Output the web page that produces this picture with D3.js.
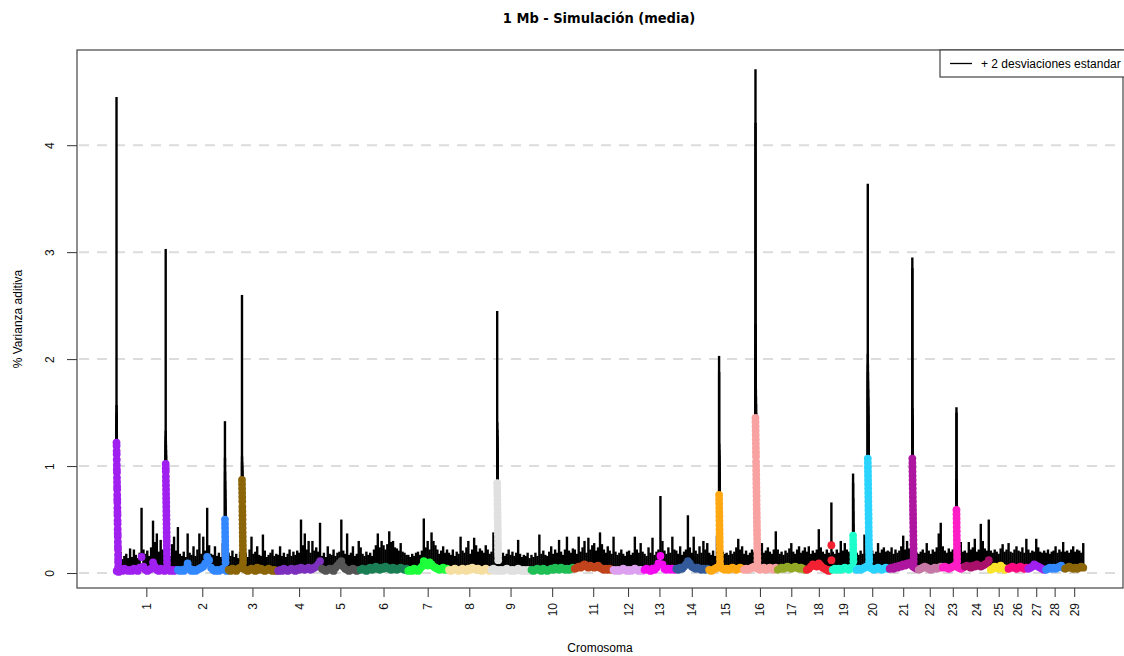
<!DOCTYPE html>
<meta charset="utf-8">
<style>
body { margin: 0; background: #fff; }
svg { font-family: "Liberation Sans", Arial, sans-serif; }
.titulo { font-family: "DejaVu Sans", sans-serif; font-stretch: condensed; font-weight: bold; font-size: 14.5px; }
.tick text { font-size: 12px; fill: #111; }
.tick line { stroke: #333; }
</style>
<svg width="1124" height="656"></svg>
<script src="https://d3js.org/d3.v7.min.js"></script>
<script>

// cromosomas y su longitud (ventanas de 1 Mb)
var cromosomas = ["1","2","3","4","5","6","7","8","9","10","11","12","13","14","15",
                  "16","17","18","19","20","21","22","23","24","25","26","27","28","29"];
var tamCrom = [158,131,128,113,100,123,105,110,103,112,100,80,82,85,90,87,75,67,62,85,75,62,57,67,46,51,46,49,52];

// media de % varianza aditiva (centesimas), por cromosoma
var mediaCrom = [
  [2,1,3,2,4,3,2,3,2,4,3,2,5,15,6,3,2,3,4,10,6,3,2,4,3,2,4,3,2,3,2,3],
  [3,2,3,2,4,9,4,2,3,2,3,4,5,6,9,15,12,5,3,2,3,2,3,4,3,2],
  [3,2,4,3,2,4,5,6,4,3,2,3,4,3,2,5,3,4,3,2,3,4,3,2,3,2],
  [2,3,2,4,3,2,3,4,3,2,4,3,5,4,3,4,5,3,4,5,6,8,11],
  [4,3,2,3,4,3,2,5,7,9,11,6,4,3,2,3,4,3,2,3],
  [3,4,3,2,4,5,3,4,6,4,3,5,4,6,5,4,3,5,4,3,4,5,4,3,4],
  [2,3,2,4,3,2,4,6,11,9,7,10,8,6,5,4,3,4,5,3,4],
  [3,2,3,4,3,2,3,4,3,2,4,3,5,4,3,4,3,2,3,4,3,2],
  [3,4,2,3,2,3,2,3,4,3,2,3,2,3,4,3,2,3,2,3,2],
  [3,2,3,4,3,2,4,3,2,3,4,3,5,4,3,5,4,3,4,3,4,5],
  [4,5,6,5,7,8,6,5,7,6,5,6,7,5,4,3,4,3,4,3],
  [3,2,3,2,3,4,3,2,3,2,3,4,3,2,3,2],
  [3,4,3,2,4,3,5,9,16,8,4,3,4,3,4,3],
  [4,3,5,4,6,8,11,9,6,5,4,5,4,3,4,3,4],
  [3,2,3,4,5,6,5,4,3,4,3,4,5,4,3,4,5,4],
  [3,4,3,4,5,6,5,4,3,4,5,3,4,5,4,3,5],
  [3,4,5,4,5,6,5,4,5,6,5,4,5,4,3],
  [3,4,6,8,7,6,9,7,5,4,3,2,3],
  [3,4,3,4,3,4,5,4,3,5,6,4],
  [3,4,3,4,5,6,7,5,4,3,4,5,4,3,4,5,4],
  [4,5,4,6,5,7,6,8,7,9,8,10,6,5,4],
  [3,4,5,6,5,4,3,4,5,4,5,6],
  [5,6,5,4,5,6,7,6,5,4,5],
  [6,7,6,5,7,6,8,7,6,7,8,9,12],
  [3,4,6,5,4,7,5,3,4],
  [4,5,6,5,4,5,6,5,4,5],
  [4,5,6,8,7,6,5,4,3],
  [3,4,5,4,5,4,5,6,7,5],
  [4,5,6,5,4,5,4,5,6,5]
];

// media + 2 desviaciones estandar (centesimas)
var supCrom = [
  [14,15,20,13,16,18,14,23,15,22,17,14,19,61,22,18,21,16,24,49,29,37,20,31,22,18,25,19,16,27,34,21],
  [43,18,16,20,15,37,19,17,25,16,22,37,18,34,21,61,26,18,17,25,16,19,15,28,14,16],
  [19,16,21,15,18,14,20,17,16,19,15,22,34,18,20,25,17,16,36,21,15,17,19,22,16,18],
  [17,25,16,19,15,18,22,16,20,17,21,19,50,26,37,22,30,19,30,21,24,20,47],
  [16,19,15,25,18,17,22,16,19,20,50,21,18,37,17,19,25,16,18,30],
  [24,18,16,20,17,19,16,22,26,37,24,30,26,22,27,39,29,30,24,23,21,28,20,19,17],
  [17,15,18,16,19,20,17,21,51,24,30,22,38,30,26,22,18,21,25,19,22],
  [19,17,22,16,20,18,34,21,19,24,30,18,22,33,26,20,23,21,19,26,22,18],
  [20,38,17,18,15,17,19,16,18,22,17,20,16,19,31,18,15,17,16,19,14],
  [17,15,19,16,36,18,21,17,16,20,25,18,22,19,31,20,17,22,34,21,19,23],
  [22,18,34,20,24,30,19,33,22,26,28,21,24,38,27,22,19,25,21,18],
  [34,20,17,19,22,18,16,20,21,17,19,34,22,19,28,20],
  [18,16,24,19,33,17,20,22,72,30,21,18,24,19,34,22],
  [21,18,25,17,20,22,54,24,19,34,21,18,25,19,30,22,28],
  [19,17,21,16,35,18,22,20,18,19,17,21,18,20,24,32,22,25],
  [18,21,17,19,22,20,25,18,22,28,19,21,24,20,18,22,39],
  [22,18,20,17,21,19,23,28,20,18,22,25,19,21,24],
  [20,25,18,21,19,22,41,24,20,18,22,19,17],
  [20,18,22,19,30,21,28,22,20,19,18,21],
  [19,17,21,18,36,20,22,19,21,18,20,28,19,22,24,20,21],
  [20,24,18,22,19,21,25,35,22,30,23,20,18,21,19],
  [18,20,22,19,28,21,18,22,20,24,37,47],
  [25,21,19,23,20,22,24,21,22,29,20],
  [21,19,29,22,24,32,20,22,46,30,23,21,50],
  [21,19,22,20,18,23,27,20,22],
  [28,20,19,22,25,21,20,24,19,32],
  [22,19,21,20,32,24,20,19,21],
  [19,22,18,20,21,25,19,22,20,29],
  [20,21,19,22,25,20,22,21,19,28]
];

// picos: cromosoma, posicion (Mb) y ventanas apiladas (centesimas)
var picoCrom = [1, 1, 2, 3, 9, 15, 16, 18, 19, 20, 21, 23];
var picoPos  = [2, 129, 124, 37, 17, 28, 32, 66, 55, 31, 61, 38];
var picoMedia = [
  [122,119,114,111,106,101,97,94,89,85,81,78,73,69,66,61,57,54,49,46,41,37,34,29,25,22,17,13,10,6],
  [102,98,95,90,86,82,78,74,70,66,62,58,54,50,46,42,38,34,30,26,22,18,14,10,6],
  [50,46,42,38,34,30,26,22,18,14,10],
  [87,83,79,75,71,67,62,58,54,50,46,42,38,34,30,26,22,18,14,10],
  [84,80,76,72,68,64,60,56,52,48,44,40,36,32,28,24,20,16,12],
  [73,69,65,61,57,53,49,45,41,37,33,29,25,21,17,13,9],
  [145,141,137,133,129,125,121,117,113,109,104,100,96,92,88,84,80,76,72,68,64,60,56,52,48,44,40,36,32,28,24,20,16,12,8],
  [26,12],
  [35,31,27,23,19,15,11],
  [107,103,99,95,91,87,83,79,75,71,67,63,59,55,51,47,43,39,35,31,27,23,19,15,11],
  [107,103,99,95,91,87,83,79,75,71,67,63,59,55,51,47,43,39,35,31,27,23,19,15,11],
  [59,55,51,47,43,39,35,31,27,23,19,15,11]
];
var picoSup = [
  [445,157,150,146,140,134,128,124,118,112,106,100,95,90,85,80,75,70,64,60,55,50,46,41,36,32,27,22,18,14],
  [303,133,128,124,120,115,110,105,100,95,90,85,80,75,70,64,58,52,46,41,36,31,26,21,16],
  [142,108,95,86,78,70,62,52,42,32,22],
  [260,109,104,100,96,92,88,84,80,76,72,66,60,55,50,45,40,34,28,22],
  [245,141,134,128,122,116,110,104,98,92,86,80,72,64,56,48,40,32,24],
  [203,188,121,115,110,104,98,92,86,80,72,64,56,48,40,32,22],
  [471,421,233,215,200,190,180,172,165,158,150,144,138,132,126,120,114,108,102,97,92,87,82,77,72,67,62,57,52,47,42,37,32,26,20],
  [66,30],
  [93,84,70,58,46,36,26],
  [364,205,195,188,180,172,164,156,148,140,132,124,116,108,100,92,84,76,68,60,52,45,38,31,24],
  [295,285,154,148,142,136,130,124,118,112,106,100,94,88,82,76,70,64,58,52,46,40,34,28,22],
  [155,150,88,84,80,75,70,64,58,52,45,38,30]
];

var colores = ["#A020F0","#3388FF","#8B6508","#7D2FBE","#555555","#1B7F55","#1EFF3C","#F5DEA0",
               "#E0E0E0","#1FBF55","#C1441C","#DDA0F0","#F50AF0","#335A9A","#FFA812","#F8A2A2",
               "#93A826","#F22232","#1EFFCC","#2AD4FF","#AE169F","#C678A6","#FF1EC5","#A8106A",
               "#FBE52B","#FA0A80"];
var yTicks = [0, 1, 2, 3, 4];

var svg = d3.select("svg");

var inicio = [], acum = 0;
tamCrom.forEach(function(t) { inicio.push(acum); acum += t; });
var pad = acum * 0.04;

var x = d3.scaleLinear().domain([-pad, acum + pad]).range([77, 1123]);
var y = d3.scaleLinear().domain([-0.14, 4.89]).range([588, 50]);

var puntos = [];
mediaCrom.forEach(function(serie, i) {
  var n = serie.length;
  serie.forEach(function(m, k) {
    puntos.push({crom: i, pos: inicio[i] + (k + 0.5) * tamCrom[i] / n, media: m / 100, sup: supCrom[i][k] / 100});
  });
});
picoCrom.forEach(function(c, p) {
  var i = c - 1;
  picoMedia[p].forEach(function(m, j) {
    puntos.push({crom: i, pos: inicio[i] + picoPos[p] + j * 0.15, media: m / 100, sup: picoSup[p][j] / 100});
  });
});

// lineas de referencia
svg.append("g").selectAll("line")
  .data(yTicks)
  .enter().append("line")
    .attr("x1", 79).attr("x2", 1123)
    .attr("y1", function(d) { return y(d); })
    .attr("y2", function(d) { return y(d); })
    .attr("stroke", "#DCDCDC")
    .attr("stroke-width", 2)
    .attr("stroke-dasharray", "10,8");

// + 2 desviaciones
svg.append("g").selectAll("line")
  .data(puntos)
  .enter().append("line")
    .attr("x1", function(d) { return x(d.pos); })
    .attr("x2", function(d) { return x(d.pos); })
    .attr("y1", function(d) { return y(d.media); })
    .attr("y2", function(d) { return y(d.sup); })
    .attr("stroke", "#000")
    .attr("stroke-width", 2.4);

// medias
svg.append("g").selectAll("circle")
  .data(puntos)
  .enter().append("circle")
    .attr("cx", function(d) { return x(d.pos); })
    .attr("cy", function(d) { return y(d.media); })
    .attr("r", 3.9)
    .attr("fill", function(d) { return colores[d.crom % colores.length]; });

// ejes
var ejeY = svg.append("g")
    .attr("transform", "translate(77,0)")
    .call(d3.axisLeft(y).tickValues(yTicks).tickSize(10).tickFormat(d3.format("d")));
ejeY.select(".domain").remove();
ejeY.selectAll("text")
    .attr("x", null).attr("dy", null)
    .attr("text-anchor", "middle")
    .attr("transform", "translate(-23,0) rotate(-90)");

var medios = cromosomas.map(function(c, i) { return inicio[i] + tamCrom[i] / 2; });
var ejeX = svg.append("g")
    .attr("transform", "translate(0,588)")
    .call(d3.axisBottom(x).tickValues(medios).tickSize(9)
      .tickFormat(function(d, i) { return cromosomas[i]; }));
ejeX.select(".domain").remove();
ejeX.selectAll("text")
    .attr("y", null).attr("dy", null)
    .attr("text-anchor", "end")
    .attr("transform", "translate(4,15) rotate(-90)");

// marco
svg.append("rect")
    .attr("x", 77).attr("y", 50)
    .attr("width", 1046).attr("height", 538)
    .attr("fill", "none")
    .attr("stroke", "#444")
    .attr("stroke-width", 1.2);

// leyenda
var ley = svg.append("g");
ley.append("rect")
    .attr("x", 940).attr("y", 50).attr("width", 190).attr("height", 27)
    .attr("fill", "#fff").attr("stroke", "#444").attr("stroke-width", 1.2);
ley.append("line")
    .attr("x1", 950).attr("x2", 972).attr("y1", 63.5).attr("y2", 63.5)
    .attr("stroke", "#000").attr("stroke-width", 1.3);
ley.append("text")
    .attr("x", 981).attr("y", 67.5)
    .attr("font-size", "12px")
    .text("+ 2 desviaciones estandar");

// textos
svg.append("text")
    .attr("class", "titulo")
    .attr("x", 599).attr("y", 23)
    .attr("text-anchor", "middle")
    .text("1 Mb - Simulación (media)");

svg.append("text")
    .attr("x", 600).attr("y", 652)
    .attr("text-anchor", "middle")
    .attr("font-size", "12px")
    .text("Cromosoma");

svg.append("text")
    .attr("transform", "translate(22,319) rotate(-90)")
    .attr("text-anchor", "middle")
    .attr("font-size", "12px")
    .text("% Varianza aditiva");

</script>
